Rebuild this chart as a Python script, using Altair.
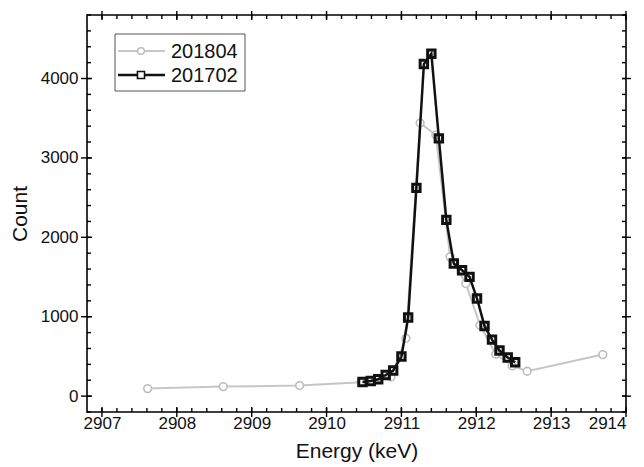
import altair as alt
import pandas as pd

# ---- data ----
energy_1804 = [2907.61, 2908.62, 2909.64, 2910.46, 2910.66, 2910.86, 2911.06, 2911.25,
               2911.46, 2911.65, 2911.86, 2912.05, 2912.26, 2912.48, 2912.68, 2913.69]
count_1804 = [95, 120, 133, 175, 205, 241, 728, 3439,
              3288, 1754, 1418, 893, 527, 380, 313, 523]

energy_1702 = [2910.48, 2910.59, 2910.69, 2910.79, 2910.89, 2911.00, 2911.09, 2911.20,
               2911.30, 2911.40, 2911.50, 2911.60, 2911.70, 2911.81, 2911.91, 2912.01,
               2912.11, 2912.21, 2912.31, 2912.42, 2912.52]
count_1702 = [178, 191, 212, 266, 322, 498, 990, 2623,
              4182, 4312, 3246, 2220, 1670, 1586, 1502, 1229,
              884, 712, 574, 486, 426]

x_major = [2907, 2908, 2909, 2910, 2911, 2912, 2913, 2914]
x_minor = [round(2907 + 0.2 * i, 1) for i in range(36)]
y_major = [0, 1000, 2000, 3000, 4000]
y_minor = [-200 + 200 * i for i in range(26)]

W, H = 539, 397
FONT = "Liberation Sans"
TXT = "#111111"

xs = alt.Scale(domain=[2906.8, 2914], nice=False, zero=False)
ys = alt.Scale(domain=[-200, 4800], nice=False, zero=False)

d1804 = pd.DataFrame({"E": energy_1804, "C": count_1804})
d1702 = pd.DataFrame({"E": energy_1702, "C": count_1702})

x_axis = alt.Axis(values=x_major, format="d", ticks=False, domain=False, grid=False,
                  labelFont=FONT, labelFontSize=17, labelColor=TXT, labelPadding=3,
                  title="Energy (keV)", titleFont=FONT, titleFontSize=21,
                  titleFontWeight="normal", titleColor=TXT, titlePadding=9)
y_axis = alt.Axis(values=y_major, format="d", ticks=False, domain=False, grid=False,
                  labelFont=FONT, labelFontSize=17, labelColor=TXT, labelPadding=9,
                  title="Count", titleFont=FONT, titleFontSize=21,
                  titleFontWeight="normal", titleColor=TXT, titlePadding=10)

gray_line = alt.Chart(d1804).mark_line(color="#c6c6c6", strokeWidth=2).encode(
    x=alt.X("E:Q", scale=xs, axis=x_axis),
    y=alt.Y("C:Q", scale=ys, axis=y_axis),
)
gray_pts = alt.Chart(d1804).mark_point(shape="circle", size=60, color="#bdbdbd",
                                       fill="white", filled=False, strokeWidth=1.6,
                                       opacity=1).encode(
    x=alt.X("E:Q", scale=xs), y=alt.Y("C:Q", scale=ys))

black_line = alt.Chart(d1702).mark_line(color="#111111", strokeWidth=2.5).encode(
    x=alt.X("E:Q", scale=xs), y=alt.Y("C:Q", scale=ys))
black_pts = alt.Chart(d1702).mark_point(shape="square", size=55, color="#111111",
                                        filled=False, strokeWidth=3, opacity=1).encode(
    x=alt.X("E:Q", scale=xs), y=alt.Y("C:Q", scale=ys))

# ---- frame ticks (inward minor, crossing major) ----
dxmaj = pd.DataFrame({"E": x_major})
dxmin = pd.DataFrame({"E": x_minor})
dymaj = pd.DataFrame({"C": y_major})
dymin = pd.DataFrame({"C": y_minor})
tk = dict(color="black", strokeWidth=1.4)

ticks = [
    alt.Chart(dxmin).mark_rule(**tk).encode(x=alt.X("E:Q", scale=xs), y=alt.value(H), y2=alt.value(H - 4)),
    alt.Chart(dxmaj).mark_rule(**tk).encode(x=alt.X("E:Q", scale=xs), y=alt.value(H + 5), y2=alt.value(H - 5)),
    alt.Chart(dxmin).mark_rule(**tk).encode(x=alt.X("E:Q", scale=xs), y=alt.value(0), y2=alt.value(4)),
    alt.Chart(dxmaj).mark_rule(**tk).encode(x=alt.X("E:Q", scale=xs), y=alt.value(-4), y2=alt.value(5)),
    alt.Chart(dymin).mark_rule(**tk).encode(y=alt.Y("C:Q", scale=ys), x=alt.value(0), x2=alt.value(4)),
    alt.Chart(dymaj).mark_rule(**tk).encode(y=alt.Y("C:Q", scale=ys), x=alt.value(-6), x2=alt.value(5)),
    alt.Chart(dymin).mark_rule(**tk).encode(y=alt.Y("C:Q", scale=ys), x=alt.value(W), x2=alt.value(W - 4)),
    alt.Chart(dymaj).mark_rule(**tk).encode(y=alt.Y("C:Q", scale=ys), x=alt.value(W + 5), x2=alt.value(W - 4)),
]

# ---- legend ----
one = pd.DataFrame({"k": [0]})
legend_box = alt.Chart(one).mark_rect(fill="white", stroke="#555555", strokeWidth=1).encode(
    x=alt.value(28), x2=alt.value(158), y=alt.value(19), y2=alt.value(76))
leg = [
    legend_box,
    alt.Chart(one).mark_rule(color="#c6c6c6", strokeWidth=2).encode(
        x=alt.value(31), x2=alt.value(78), y=alt.value(36)),
    alt.Chart(one).mark_point(shape="circle", size=45, color="#bdbdbd", fill="white",
                              filled=False, strokeWidth=1.5, opacity=1).encode(
        x=alt.value(54), y=alt.value(36)),
    alt.Chart(one).mark_rule(color="#111111", strokeWidth=2.5).encode(
        x=alt.value(31), x2=alt.value(78), y=alt.value(60)),
    alt.Chart(one).mark_rect(fill="white").encode(
        x=alt.value(50), x2=alt.value(58), y=alt.value(56), y2=alt.value(64)),
    alt.Chart(one).mark_point(shape="square", size=50, color="#111111",
                              filled=False, strokeWidth=1.6, opacity=1).encode(
        x=alt.value(54), y=alt.value(60)),
    alt.Chart(one).mark_text(text="201804", font=FONT, fontSize=20, align="left",
                             baseline="middle", color=TXT).encode(
        x=alt.value(84), y=alt.value(37)),
    alt.Chart(one).mark_text(text="201702", font=FONT, fontSize=20, align="left",
                             baseline="middle", color=TXT).encode(
        x=alt.value(84), y=alt.value(61)),
]

chart = alt.layer(gray_line, gray_pts, black_line, black_pts, *ticks, *leg).properties(
    width=W, height=H,
    padding={"left": 87, "top": 15, "right": 18, "bottom": 55},
    autosize=alt.AutoSizeParams(type="none"),
    background="white",
).configure_view(stroke="black", strokeWidth=1.6)

chart.save("out.html", embed_options={"renderer": "svg", "actions": False})
